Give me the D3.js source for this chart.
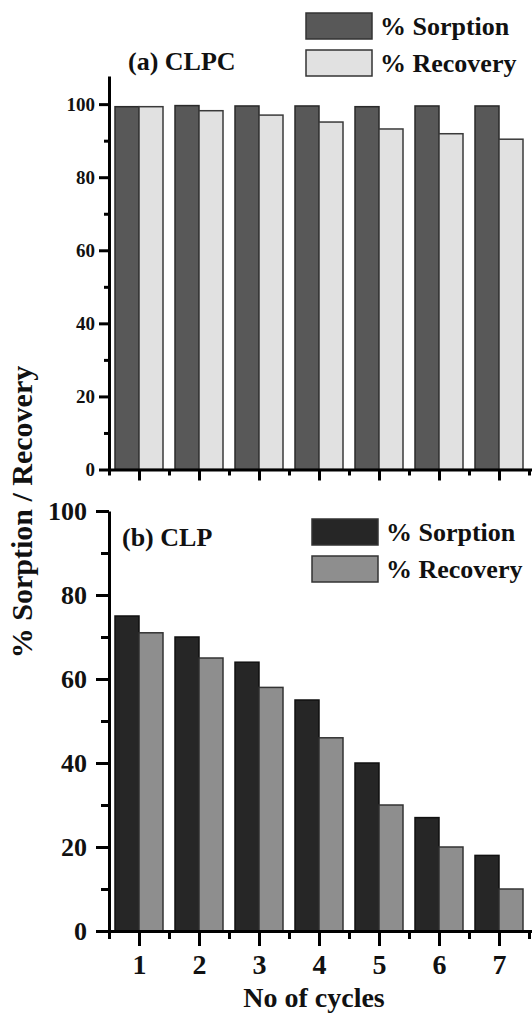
<!DOCTYPE html>
<html>
<head>
<meta charset="utf-8">
<script src="https://cdn.jsdelivr.net/npm/d3@7"></script>
<style>
  html, body { margin: 0; padding: 0; background: #fff; }
  svg text { font-family: "Liberation Serif", "Times New Roman", serif; font-weight: bold; fill: #111; }
</style>
</head>
<body>
<div id="chart"></div>
<script>
// 資料
const cycles = [1, 2, 3, 4, 5, 6, 7];
const clpcSorption = [99.3, 99.6, 99.5, 99.5, 99.3, 99.5, 99.5];
const clpcRecovery = [99.3, 98.2, 97.0, 95.1, 93.2, 91.9, 90.4];
const clpSorption = [75, 70, 64, 55, 40, 27, 18];
const clpRecovery = [71, 65, 58, 46, 30, 20, 10];
const yTicks = [0, 20, 40, 60, 80, 100];
const yMinorTicks = [10, 30, 50, 70, 90];
const xMinorTicks = [0.5, 1.5, 2.5, 3.5, 4.5, 5.5, 6.5, 7.5];
const seriesNames = ["% Sorption", "% Recovery"];

const width = 532, height = 1014;

const svg = d3.select("#chart")
    .append("svg")
    .attr("width", width)
    .attr("height", height);

// x 比例尺 (兩個面板共用)
const x = d3.scaleLinear().domain([0.5, 7.55]).range([109, 532]);
const barW = (x(2) - x(1)) * 0.4;

// 繪製單一面板
function drawPanel(opt) {
    const y = d3.scaleLinear().domain([0, opt.yMax]).range([opt.y0, opt.yTop]);
    const g = svg.append("g");

    const data = cycles.map((c, i) => ({ c, s: opt.sorption[i], r: opt.recovery[i] }));

    // 長條
    g.append("g").selectAll("rect")
        .data(data)
        .join("rect")
        .attr("x", d => x(d.c) - barW)
        .attr("y", d => y(d.s))
        .attr("width", barW)
        .attr("height", d => y(0) - y(d.s))
        .attr("fill", opt.colors[0])
        .attr("stroke", opt.strokes[0])
        .attr("stroke-width", 1.5);

    g.append("g").selectAll("rect")
        .data(data)
        .join("rect")
        .attr("x", d => x(d.c))
        .attr("y", d => y(d.r))
        .attr("width", barW)
        .attr("height", d => y(0) - y(d.r))
        .attr("fill", opt.colors[1])
        .attr("stroke", opt.strokes[1])
        .attr("stroke-width", 1.5);

    // y 軸
    const yMinor = g.append("g")
        .attr("transform", `translate(${x(0.5)},0)`)
        .call(d3.axisLeft(y).tickValues(yMinorTicks).tickSize(opt.yTick[1]).tickFormat(""));
    const yAxis = g.append("g")
        .attr("transform", `translate(${x(0.5)},0)`)
        .call(d3.axisLeft(y).tickValues(yTicks).tickSize(opt.yTick[0]).tickSizeOuter(0).tickPadding(opt.yPad));
    yAxis.selectAll("text").style("font-size", opt.yFont + "px").attr("dy", "0.34em");
    yMinor.select(".domain").remove();

    // x 軸
    const xMinor = g.append("g")
        .attr("transform", `translate(0,${y(0)})`)
        .call(d3.axisBottom(x).tickValues(xMinorTicks).tickSize(opt.xTick[1]).tickFormat(""));
    xMinor.select(".domain").remove();
    const xAxis = g.append("g")
        .attr("transform", `translate(0,${y(0)})`)
        .call(d3.axisBottom(x).tickValues(cycles).tickSize(opt.xTick[0]).tickSizeOuter(0)
            .tickFormat(opt.xLabels ? d3.format("d") : "").tickPadding(6));
    xAxis.selectAll("text").style("font-size", "28px").attr("dy", "0.78em");

    g.selectAll(".domain").attr("stroke", "#000").attr("stroke-width", 3);
    g.selectAll(".tick line").attr("stroke", "#000").attr("stroke-width", 3);

    // 標題
    g.append("text")
        .attr("x", opt.title[1]).attr("y", opt.title[2])
        .style("font-size", "26px")
        .text(opt.title[0]);

    // 圖例
    seriesNames.forEach((name, i) => {
        const ly = opt.legend[1] + i * opt.legend[2];
        g.append("rect")
            .attr("x", opt.legend[0]).attr("y", ly)
            .attr("width", 66).attr("height", 26)
            .attr("fill", opt.colors[i])
            .attr("stroke", "#333").attr("stroke-width", 1.5);
        g.append("text")
            .attr("x", opt.legend[0] + 74).attr("y", ly + 22)
            .style("font-size", "26px")
            .text(name);
    });
}

drawPanel({
    sorption: clpcSorption, recovery: clpcRecovery,
    yMax: 107.7, y0: 469.5, yTop: 76,
    colors: ["#585858", "#e1e1e1"], strokes: ["#2a2a2a", "#3a3a3a"],
    yTick: [10, 5], yPad: 4, yFont: 19, xTick: [11, 6], xLabels: false,
    title: ["(a) CLPC", 128, 70],
    legend: [306, 13, 37]
});

drawPanel({
    sorption: clpSorption, recovery: clpRecovery,
    yMax: 100, y0: 931, yTop: 511,
    colors: ["#262626", "#8e8e8e"], strokes: ["#111", "#333"],
    yTick: [13, 8], yPad: 9, yFont: 26, xTick: [15, 8], xLabels: true,
    title: ["(b) CLP", 122, 546],
    legend: [312, 519, 37]
});

// y 軸標題
svg.append("text")
    .attr("transform", "translate(32,512) rotate(-90)")
    .attr("text-anchor", "middle")
    .style("font-size", "30px")
    .text("% Sorption / Recovery");

// x 軸標題
svg.append("text")
    .attr("x", 314).attr("y", 1007)
    .attr("text-anchor", "middle")
    .style("font-size", "28px")
    .text("No of cycles");
</script>
</body>
</html>
